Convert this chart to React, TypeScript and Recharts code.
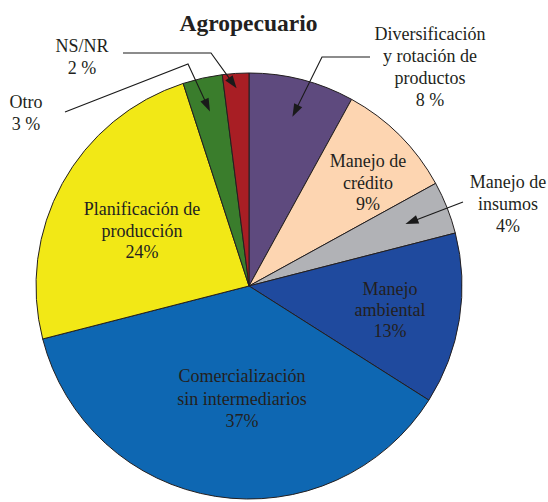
import { Cell, Pie, PieChart } from "recharts";

const categories = [
    "Diversificación y rotación de productos",
    "Manejo de crédito",
    "Manejo de insumos",
    "Manejo ambiental",
    "Comercialización sin intermediarios",
    "Planificación de producción",
    "Otro",
    "NS/NR"
];
const values = [8, 9, 4, 13, 37, 24, 3, 2];
const valueLabels = ["8 %", "9%", "4%", "13%", "37%", "24%", "3 %", "2 %"];
const labelLines = [
    ["Diversificación", "y rotación de", "productos"],
    ["Manejo de", "crédito"],
    ["Manejo de", "insumos"],
    ["Manejo", "ambiental"],
    ["Comercialización", "sin intermediarios"],
    ["Planificación de", "producción"],
    ["Otro"],
    ["NS/NR"]
];
const colors = ["#5E4A7E", "#FDD5B1", "#B1B2B6", "#1F4A9E", "#0E67B2", "#F2E816", "#3A7D2C", "#A81E24"];

const data = categories.map((name, i) => ({ name, value: values[i] }));

// text placement relative to pie centre; leader = callout with arrow
type Leader = { from: number[], elbow?: number[], tipR: number };
const labelLayout: { dx: number, dy: number, gap: number, leader?: Leader }[] = [
    { dx: 181, dy: -246, gap: 22, leader: { from: [121, -229], elbow: [73, -229], tipR: 0.82 } },
    { dx: 119, dy: -119, gap: 21.5 },
    { dx: 259, dy: -98, gap: 22, leader: { from: [214, -84], tipR: 0.79 } },
    { dx: 141, dy: 9, gap: 21 },
    { dx: -7, dy: 96, gap: 22.5 },
    { dx: -107, dy: -71, gap: 21.5 },
    { dx: -223, dy: -178, gap: 22, leader: { from: [-184, -174], elbow: [-61, -222], tipR: 0.84 } },
    { dx: -167, dy: -234, gap: 22, leader: { from: [-126, -233], elbow: [-38, -233], tipR: 0.93 } }
];

const RAD = Math.PI / 180;
const textColor = "#231F20";
const serif = "'Liberation Serif', 'Times New Roman', serif";
const centre = { x: 249, y: 286 };

function renderLabel(props: any) {
    const { midAngle, outerRadius, index } = props;
    const cx = centre.x;
    const cy = centre.y;
    const layout = labelLayout[index];
    const lines = [...labelLines[index], valueLabels[index]];
    const tx = cx + layout.dx;
    const ty = cy + layout.dy;

    let leader = null;
    if (layout.leader) {
        const r = outerRadius * layout.leader.tipR;
        const tipX = cx + r * Math.cos(-midAngle * RAD);
        const tipY = cy + r * Math.sin(-midAngle * RAD);
        const pts: number[][] = [[cx + layout.leader.from[0], cy + layout.leader.from[1]]];
        if (layout.leader.elbow) pts.push([cx + layout.leader.elbow[0], cy + layout.leader.elbow[1]]);
        const prev = pts[pts.length - 1];
        const vx = tipX - prev[0];
        const vy = tipY - prev[1];
        const len = Math.sqrt(vx * vx + vy * vy);
        const ux = vx / len;
        const uy = vy / len;
        const headLen = 13;
        const headW = 4.5;
        const baseX = tipX - ux * headLen;
        const baseY = tipY - uy * headLen;
        pts.push([baseX + ux, baseY + uy]);
        const head = `${tipX},${tipY} ${baseX - uy * headW},${baseY + ux * headW} ${baseX + uy * headW},${baseY - ux * headW}`;
        leader = (
            <g>
                <polyline points={pts.map(p => p.join(",")).join(" ")} fill="none" stroke="#1a1a1a" strokeWidth={1.1} />
                <polygon points={head} fill="#1a1a1a" />
            </g>
        );
    }

    return (
        <g key={"lbl-" + index}>
            {leader}
            <text x={tx} y={ty} textAnchor="middle" fill={textColor}
                style={{ fontFamily: serif, fontSize: 18 }}>
                {lines.map((l, i) => (
                    <tspan key={i} x={tx} y={ty + i * layout.gap}>{l}</tspan>
                ))}
            </text>
        </g>
    );
}

export default function App() {
    return (
        <div style={{ position: "absolute", left: 0, top: 0, width: 548, height: 502, background: "#fff" }}>
            <div style={{
                position: "absolute", left: 0, top: 10, width: 497, textAlign: "center",
                fontFamily: serif, fontWeight: "bold", fontSize: 23.5,
                lineHeight: "26px", color: textColor
            }}>
                Agropecuario
            </div>
            <PieChart width={548} height={502} margin={{ top: 0, right: 0, bottom: 0, left: 0 }}>
                <Pie
                    data={data}
                    dataKey="value"
                    nameKey="name"
                    cx={centre.x}
                    cy={centre.y}
                    outerRadius={213}
                    startAngle={90}
                    endAngle={-270}
                    stroke="#231F20"
                    strokeWidth={1}
                    label={renderLabel}
                    labelLine={false}
                    isAnimationActive={false}>
                    {data.map((d, i) => (
                        <Cell key={d.name} fill={colors[i]} />
                    ))}
                </Pie>
            </PieChart>
        </div>
    );
}
